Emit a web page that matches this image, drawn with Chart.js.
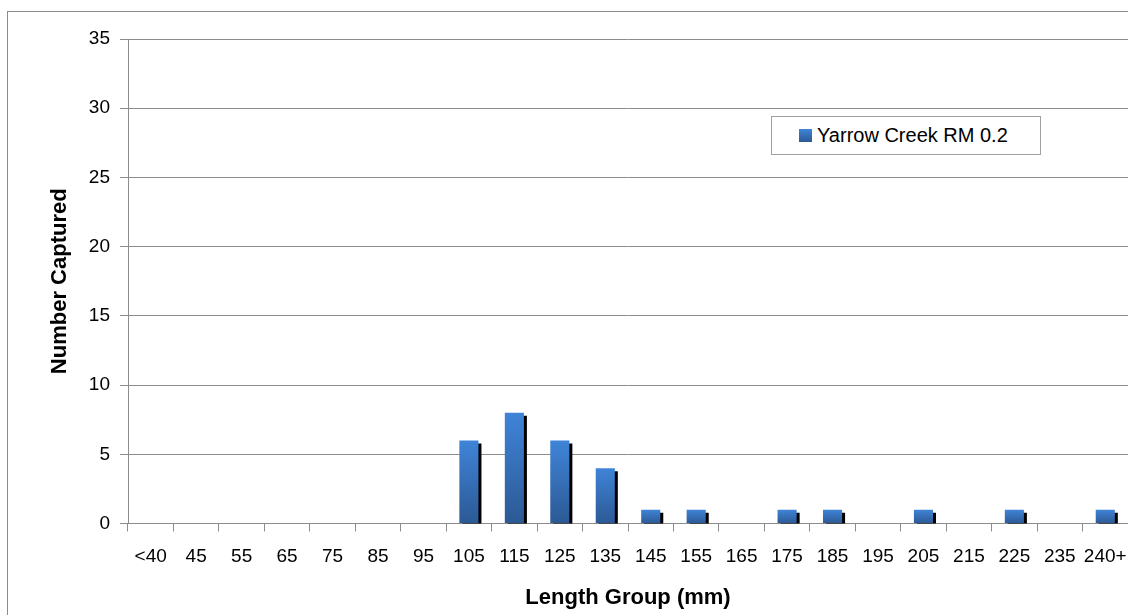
<!DOCTYPE html>
<html>
<head>
<meta charset="utf-8">
<script src="https://cdn.jsdelivr.net/npm/chart.js@4"></script>
<style>
  body { margin: 0; background: #fff; }
  #wrap { position: relative; width: 1128px; height: 615px; overflow: hidden; }
  #frame { position: absolute; left: 7px; top: 11px; width: 1130px; height: 620px; border: 1px solid #8c8c8c; box-sizing: border-box; }
  #myChart { position: absolute; left: 0; top: 0; }
  #legend { position: absolute; left: 771px; top: 116px; width: 270px; height: 39px; border: 1px solid #a0a0a0; box-sizing: border-box; background: #fff;
            font-family: "Liberation Sans", Arial, sans-serif; font-size: 20px; color: #000; }
  #legend .box { position: absolute; left: 27px; top: 12px; width: 13px; height: 13px; }
  #legend .txt { position: absolute; left: 45px; top: 7px; white-space: nowrap; }
</style>
</head>
<body>
<div id="wrap">
  <div id="frame"></div>
  <canvas id="myChart" width="1128" height="615"></canvas>
  <div id="legend"><span class="box"></span><span class="txt"></span></div>
</div>
<script>
// Length groups (x axis)
const lengthGroups = ["<40", "45", "55", "65", "75", "85", "95", "105", "115", "125", "135",
  "145", "155", "165", "175", "185", "195", "205", "215", "225", "235", "240+"];

// Fish caught in each group
const captured = [0, 0, 0, 0, 0, 0, 0, 6, 8, 6, 4, 1, 1, 0, 1, 1, 0, 1, 0, 1, 0, 1];

const seriesName = "Yarrow Creek RM 0.2";
const yTicks = [0, 5, 10, 15, 20, 25, 30, 35];

const barTop = "#3f84d8";
const barBottom = "#2c5994";
const gridGray = "#8c8c8c";
const tickFont = {family: "'Liberation Sans', Arial, sans-serif", size: 19};
const titleFont = {family: "'Liberation Sans', Arial, sans-serif", size: 22, weight: "bold"};

// legend box (html)
document.querySelector("#legend .box").style.background = "linear-gradient(" + barTop + "," + barBottom + ")";
document.querySelector("#legend .txt").textContent = seriesName;

// black drop shadow behind the bars, like the excel chart
const barShadow = {
	id: "barShadow",
	beforeDatasetDraw(chart) {
		const ctx = chart.ctx;
		ctx.save();
		ctx.shadowColor = "#000";
		ctx.shadowBlur = 0;
		ctx.shadowOffsetX = 3;
		ctx.shadowOffsetY = 3;
	},
	afterDatasetDraw(chart) {
		chart.ctx.restore();
	}
};

function barGradient(context) {
	const chart = context.chart;
	if (!chart.chartArea || context.raw == null) return barTop;
	const y = chart.scales.y;
	const top = y.getPixelForValue(context.raw);
	const bottom = y.getPixelForValue(0);
	if (bottom - top < 1) return barTop;
	const g = chart.ctx.createLinearGradient(0, top, 0, bottom);
	g.addColorStop(0, barTop);
	g.addColorStop(1, barBottom);
	return g;
}

const myChart = document.getElementById("myChart");

let barChart = new Chart(myChart, {
	type: "bar",
	data: {
		labels: lengthGroups,
		datasets: [{
			label: seriesName,
			data: captured,
			backgroundColor: barGradient,
			borderWidth: 0,
			barPercentage: 0.42,
			categoryPercentage: 1,
			clip: 0
		}]
	},
	options: {
		responsive: false,
		animation: false,
		layout: {padding: {top: 39, right: 0, bottom: 0, left: 0}},
		plugins: {
			legend: {display: false},
			tooltip: {enabled: false}
		},
		scales: {
			x: {
				afterFit(scale) {
					scale.height = 91.5;
					// plot runs right up to the edge like the original
					scale.paddingLeft = 0;
					scale.paddingRight = 0;
				},
				grid: {drawOnChartArea: false, color: gridGray, tickLength: 8, offset: true},
				border: {color: gridGray},
				ticks: {color: "#000", font: tickFont, maxRotation: 0, autoSkip: false, padding: 14},
				title: {display: true, text: "Length Group (mm)", color: "#000", font: titleFont, padding: {top: 0, bottom: 4}}
			},
			y: {
				min: 0,
				max: 35,
				afterFit(scale) { scale.width = 128; },
				afterBuildTicks(scale) { scale.ticks = yTicks.map(v => ({value: v})); },
				grid: {color: gridGray, tickLength: 8},
				border: {color: gridGray},
				ticks: {color: "#000", font: tickFont, padding: 10},
				title: {display: true, text: "Number Captured", color: "#000", font: titleFont, padding: {top: 47, bottom: 0}}
			}
		}
	},
	plugins: [barShadow]
});
</script>
</body>
</html>
